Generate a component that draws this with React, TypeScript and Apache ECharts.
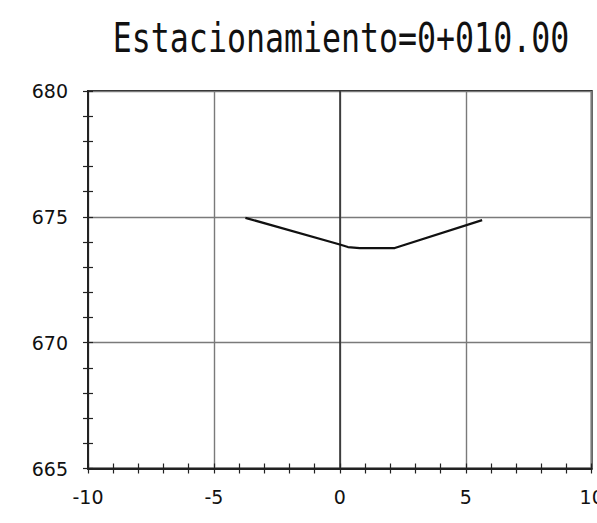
import React, { useEffect, useRef } from "react";
import * as echarts from "echarts";

const titleText = "Estacionamiento=0+010.00";
const xOffsets = [-3.75, 0, 0.32, 0.79, 2.18, 5.65];
const elevations = [674.96, 673.9, 673.8, 673.76, 673.76, 674.87];
const xRange = [-10, 10];
const yRange = [665, 680];
const tickStep = 5;

export default function App() {
  const ref = useRef<HTMLDivElement>(null);
  useEffect(() => {
    if (!ref.current) return;
    const chart = echarts.init(ref.current, undefined, { renderer: "svg" });
    const labelStyle = { color: "#111", fontFamily: "DejaVu Sans, sans-serif", fontSize: 19 };
    const mainAxisLine = { show: true, onZero: false, lineStyle: { color: "#222", width: 2 } };
    const tickStyle = { color: "#222", width: 1.2 };
    const makeX = (inside: boolean) => ({
      type: "value",
      position: "bottom",
      min: xRange[0],
      max: xRange[1],
      interval: tickStep,
      axisLine: inside ? { show: false, onZero: false } : mainAxisLine,
      axisTick: { show: true, inside, length: 5, lineStyle: tickStyle },
      minorTick: { show: true, splitNumber: 5, length: 5, lineStyle: tickStyle },
      axisLabel: inside ? { show: false } : { ...labelStyle, margin: 19 },
      splitLine: inside ? { show: false } : { show: true, lineStyle: { color: "#7a7a7a", width: 1.4 } },
      minorSplitLine: { show: false },
    });
    const makeY = (inside: boolean) => ({
      type: "value",
      position: "left",
      min: yRange[0],
      max: yRange[1],
      interval: tickStep,
      axisLine: inside ? { show: false, onZero: false } : mainAxisLine,
      axisTick: { show: true, inside, length: 5, lineStyle: tickStyle },
      minorTick: { show: true, splitNumber: 5, length: 5, lineStyle: tickStyle },
      axisLabel: inside ? { show: false } : { ...labelStyle, margin: 20 },
      splitLine: inside ? { show: false } : { show: true, lineStyle: { color: "#7a7a7a", width: 1.4 } },
      minorSplitLine: { show: false },
    });
    chart.setOption({
      animation: false,
      backgroundColor: "#fff",
      grid: {
        left: 88,
        top: 91,
        right: 5.3,
        bottom: 54.5,
        containLabel: false,
        outerBoundsMode: "none",
        show: true,
        borderColor: "#222",
        borderWidth: 2,
        backgroundColor: "transparent",
      },
      graphic: [
        {
          type: "text",
          x: 341,
          y: 38,
          scaleX: 0.79,
          style: {
            text: titleText,
            fontFamily: "DejaVu Sans Mono",
            fontSize: 40,
            fill: "#111",
            stroke: "#fff",
            lineWidth: 1.3,
            textAlign: "center",
            verticalAlign: "middle",
          },
        },
      ],
      xAxis: [makeX(false), makeX(true)],
      yAxis: [makeY(false), makeY(true)],
      series: [
        {
          type: "line",
          xAxisIndex: 0,
          yAxisIndex: 0,
          data: xOffsets.map((x, i) => [x, elevations[i]]),
          showSymbol: false,
          symbol: "none",
          lineStyle: { color: "#111", width: 2.2 },
          markLine: {
            silent: true,
            symbol: "none",
            label: { show: false },
            lineStyle: { color: "#2a2a2a", width: 1.5, type: "solid" },
            data: [{ xAxis: 0 }],
          },
          z: 5,
        },
      ],
    });
    return () => chart.dispose();
  }, []);
  return (
    <div
      ref={ref}
      style={{ position: "absolute", left: 0, top: 0, width: 597, height: 523 }}
    />
  );
}
